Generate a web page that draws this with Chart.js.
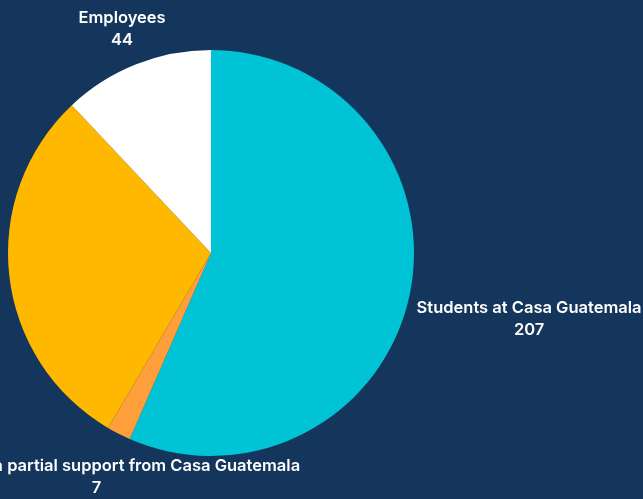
<!DOCTYPE html>
<html>
<head>
<meta charset="utf-8">
<script src="https://cdn.jsdelivr.net/npm/chart.js@4.4.1/dist/chart.umd.min.js"></script>
<style>
  html, body { margin: 0; padding: 0; background: #14365d; }
  #wrap { width: 643px; height: 499px; position: relative; }
</style>
</head>
<body>
<div id="wrap"><canvas id="pie"></canvas></div>
<script>
const labels = [
  'Students at Casa Guatemala',
  'Students with partial support from Casa Guatemala',
  'Other',
  'Employees'
];
const values = [207, 7, 108, 44];
const colors = ['#00c3d6', '#ff9f3c', '#ffb800', '#ffffff'];

// labels outside each slice, pushed out along the slice's middle
const outsideLabels = {
  id: 'outsideLabels',
  afterDatasetsDraw(chart) {
    const ctx = chart.ctx;
    const meta = chart.getDatasetMeta(0);
    const lineH = 22, gap = 9, pad = 8;
    ctx.save();
    ctx.font = '600 16.5px Inter, "Noto Sans", sans-serif';
    ctx.fillStyle = '#ffffff';
    ctx.textAlign = 'center';
    ctx.textBaseline = 'middle';
    meta.data.forEach((arc, i) => {
      const p = arc.getProps(['x', 'y', 'startAngle', 'endAngle', 'outerRadius'], true);
      const mid = (p.startAngle + p.endAngle) / 2;
      const vx = Math.cos(mid), vy = Math.sin(mid);
      const lines = [labels[i], String(values[i])];
      const w = Math.max(...lines.map(t => ctx.measureText(t).width));
      const h = lines.length * 14;
      let d = p.outerRadius + gap + Math.abs(vx) * w / 2 + Math.abs(vy) * h / 2;
      let cy = p.y + vy * d;
      if (cy + h / 2 > chart.height - pad) d = (chart.height - pad - h / 2 - p.y) / vy;
      if (cy - h / 2 < pad) d = (pad + h / 2 - p.y) / vy;
      const cx = p.x + vx * d;
      cy = p.y + vy * d;
      if (cx + w / 2 < 0 || cx - w / 2 > chart.width) return;
      lines.forEach((t, j) => {
        ctx.fillText(t, cx, cy + (j - (lines.length - 1) / 2) * lineH);
      });
    });
    ctx.restore();
  }
};

new Chart(document.getElementById('pie'), {
  type: 'pie',
  data: {
    labels: labels,
    datasets: [{
      data: values,
      backgroundColor: colors,
      borderWidth: 0
    }]
  },
  options: {
    responsive: true,
    maintainAspectRatio: false,
    animation: false,
    layout: { padding: { left: 8, top: 50, right: 229, bottom: 43 } },
    plugins: {
      legend: { display: false },
      tooltip: { enabled: false }
    }
  },
  plugins: [outsideLabels]
});
</script>
</body>
</html>
